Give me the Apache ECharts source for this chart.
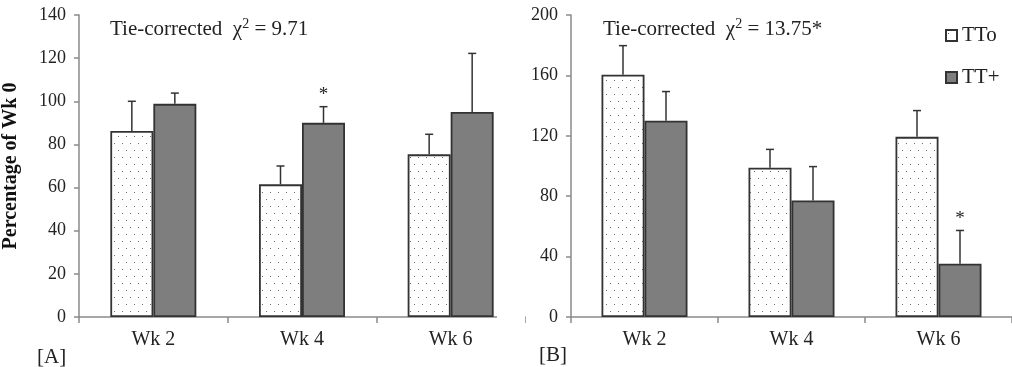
<!DOCTYPE html>
<html>
<head>
<meta charset="utf-8">
<script src="https://cdn.jsdelivr.net/npm/echarts@6/dist/echarts.min.js"></script>
<style>
  html, body { margin: 0; padding: 0; background: #fff; }
  #chart { width: 1012px; height: 367px; }
</style>
</head>
<body>
<div id="chart"></div>
<script>
// data
const weeks = ['Wk 2', 'Wk 4', 'Wk 6']

// [A] percentage of Wk 0
const aTTo = [86.2, 61.5, 75.4]
const aTToSd = [13.8, 8.5, 9.3]
const aTTp = [98.8, 90, 95]
const aTTpSd = [5, 7.5, 27.2]
const aTTpSig = [0, 1, 0]

// [B]
const bTTo = [160.5, 98.8, 119.3]
const bTToSd = [19.2, 12.2, 17.4]
const bTTp = [130, 77.2, 35.3]
const bTTpSd = [19.3, 22.4, 22]
const bTTpSig = [0, 0, 1]

const titleA = 'Tie-corrected  χ{s|2} = 9.71'
const titleB = 'Tie-corrected  χ{s|2} = 13.75*'

const FONT = '"Liberation Serif", "Times New Roman", serif'
const BAR_W = 43
const INK = '#222'

// dotted fill for TTo
const dots = document.createElement('canvas')
dots.width = 8
dots.height = 14
const dctx = dots.getContext('2d')
dctx.fillStyle = '#fff'
dctx.fillRect(0, 0, 8, 14)
dctx.fillStyle = '#6e6e6e'
dctx.fillRect(2, 3, 1, 1)
dctx.fillRect(6, 10, 1, 1)

const ttoStyle = { color: { image: dots, repeat: 'repeat' }, borderColor: '#333', borderWidth: 1.8 }
const ttpStyle = { color: '#7e7e7e', borderColor: '#333', borderWidth: 1.8 }

const errData = (means, sds, sig) => means.map((m, i) => [i, m, m + sds[i], sig ? sig[i] : 0])

// upper error bar + optional asterisk, side = -1 (TTo) or 1 (TT+)
const errSeries = (means, sds, sig, side, axis) => ({
  type: 'custom',
  xAxisIndex: axis,
  yAxisIndex: axis,
  silent: true,
  z: 5,
  data: errData(means, sds, sig),
  renderItem: (params, api) => {
    const x = api.coord([api.value(0), 0])[0] + side * BAR_W / 2
    const y0 = api.coord([api.value(0), api.value(1)])[1]
    const y1 = api.coord([api.value(0), api.value(2)])[1]
    const line = { stroke: '#333', lineWidth: 1.5 }
    const children = [
      { type: 'line', shape: { x1: x, y1: y0, x2: x, y2: y1 }, style: line },
      { type: 'line', shape: { x1: x - 4, y1: y1, x2: x + 4, y2: y1 }, style: line },
    ]
    if (api.value(3)) {
      children.push({
        type: 'text',
        style: { text: '*', x: x, y: y1 - 2, align: 'center', verticalAlign: 'bottom', font: '19px ' + FONT, fill: INK },
      })
    }
    return { type: 'group', children }
  },
})

const xAxis = (i) => ({
  type: 'category',
  gridIndex: i,
  data: weeks,
  axisLine: { lineStyle: { color: '#8a8a8a', width: 1.5 } },
  axisTick: { show: true, length: 6, lineStyle: { color: '#8a8a8a', width: 1.5 } },
  axisLabel: { color: INK, fontFamily: FONT, fontSize: 20, margin: 13 },
})

const yAxis = (i, max, step, name) => ({
  type: 'value',
  gridIndex: i,
  min: 0,
  max: max,
  interval: step,
  name: name,
  nameLocation: 'middle',
  nameRotate: 90,
  nameGap: 58,
  nameTextStyle: { color: '#111', fontFamily: FONT, fontSize: 20, fontWeight: 'bold' },
  splitLine: { show: false },
  axisLine: { show: true, lineStyle: { color: '#8a8a8a', width: 1.5 } },
  axisTick: { show: true, length: 5, lineStyle: { color: '#8a8a8a', width: 1.5 } },
  axisLabel: { color: INK, fontFamily: FONT, fontSize: 18, margin: 13 },
})

const titleText = (x, text) => ({
  type: 'text',
  x: x,
  y: 29,
  z: 101,
  style: {
    text: text,
    font: '21px ' + FONT,
    fill: INK,
    verticalAlign: 'middle',
    rich: { s: { fontFamily: FONT, fontSize: 14, fill: INK, padding: [0, 0, 9, 0] } },
  },
})

const chart = echarts.init(document.getElementById('chart'))
chart.setOption({
  animation: false,
  backgroundColor: '#fff',
  grid: [
    { left: 79, top: 15, width: 446, height: 302 },
    { left: 571, top: 15, width: 445, height: 302 },
  ],
  xAxis: [xAxis(0), xAxis(1)],
  yAxis: [yAxis(0, 140, 20, 'Percentage of Wk 0'), yAxis(1, 200, 40, '')],
  legend: {
    data: ['TTo', 'TT+'],
    orient: 'vertical',
    left: 940,
    top: 20,
    itemWidth: 11,
    itemHeight: 11,
    itemGap: 21,
    icon: 'rect',
    textStyle: { color: INK, fontFamily: FONT, fontSize: 21, lineHeight: 20 },
  },
  graphic: [
    // panel [A] is cut off on the right in the source figure
    { type: 'rect', shape: { x: 497, y: 0, width: 28, height: 367 }, style: { fill: '#fff' }, z: 100 },
    titleText(110, titleA),
    titleText(603, titleB),
    { type: 'text', x: 37, y: 357, style: { text: '[A]', font: '21px ' + FONT, fill: INK, verticalAlign: 'middle' }, z: 101 },
    { type: 'text', x: 539, y: 355, style: { text: '[B]', font: '21px ' + FONT, fill: INK, verticalAlign: 'middle' }, z: 101 },
  ],
  series: [
    { name: 'TTo', type: 'bar', xAxisIndex: 0, yAxisIndex: 0, data: aTTo, barWidth: BAR_W, barGap: '0%', itemStyle: ttoStyle },
    { name: 'TT+', type: 'bar', xAxisIndex: 0, yAxisIndex: 0, data: aTTp, barWidth: BAR_W, barGap: '0%', itemStyle: ttpStyle },
    { name: 'TTo', type: 'bar', xAxisIndex: 1, yAxisIndex: 1, data: bTTo, barWidth: BAR_W, barGap: '0%', itemStyle: ttoStyle },
    { name: 'TT+', type: 'bar', xAxisIndex: 1, yAxisIndex: 1, data: bTTp, barWidth: BAR_W, barGap: '0%', itemStyle: ttpStyle },
    errSeries(aTTo, aTToSd, null, -1, 0),
    errSeries(aTTp, aTTpSd, aTTpSig, 1, 0),
    errSeries(bTTo, bTToSd, null, -1, 1),
    errSeries(bTTp, bTTpSd, bTTpSig, 1, 1),
  ],
})

window.addEventListener('resize', () => chart.resize())
</script>
</body>
</html>
